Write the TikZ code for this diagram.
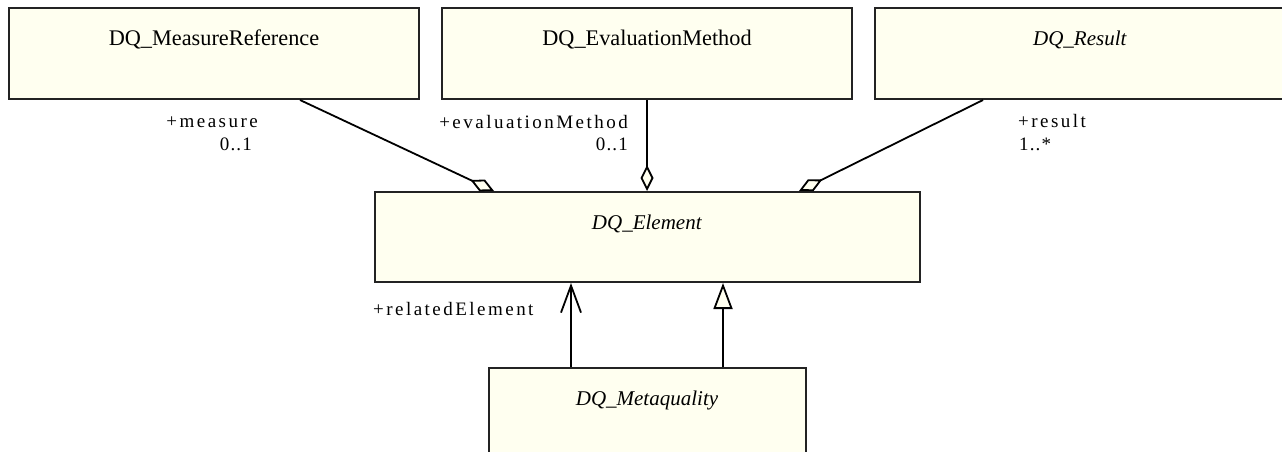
\documentclass[tikz,border=0pt]{standalone}
\usepackage{fontspec}
\setmainfont{Liberation Serif}
\newfontfamily\rolefont[LetterSpace=13]{Liberation Serif}
\newfontfamily\multfont[LetterSpace=6]{Liberation Serif}
\usetikzlibrary{arrows.meta,positioning}
\definecolor{classfill}{RGB}{255,255,240}
\definecolor{classline}{RGB}{35,35,35}

\begin{document}
\begin{tikzpicture}[x=1pt,y=1pt,node distance=21pt,
    classbox/.style={draw=classline,fill=classfill,line width=2pt,
      inner xsep=0pt,inner ysep=0pt,text height=37pt,text depth=54pt,
      minimum width=410pt,font=\fontsize{21}{25}\selectfont},
    concrete/.style={font=\fontsize{22.3}{26}\selectfont},
    role/.style={inner sep=0pt,font=\rolefont\fontsize{19}{22}\selectfont},
    mult/.style={inner sep=0pt,font=\multfont\fontsize{19}{22}\selectfont},
    assoc/.style={line width=1.8pt},
    aggr/.style={assoc,-{Diamond[length=26pt,width=13pt,fill=classfill]}}]
  \clip (0,0) rectangle (1282,-451);
  % classes
  \node[classbox,concrete,anchor=north west] (mref) at (8,-7) {DQ\_MeasureReference};
  \node[classbox,concrete,right=of mref] (evalm) {DQ\_EvaluationMethod};
  \node[classbox,right=of evalm] (result) {\textit{DQ\_Result}};
  \node[classbox,minimum width=545pt,text depth=53pt,below=91pt of evalm] (elem) {\textit{DQ\_Element}};
  \node[classbox,minimum width=317pt,text depth=80pt,below=84pt of elem] (meta) {\textit{DQ\_Metaquality}};
  % aggregations
  \draw[aggr] ([xshift=86pt]mref.south) -- ([xshift=-153pt]elem.north);
  \draw[aggr] (evalm.south) -- (elem.north);
  \draw[aggr] ([xshift=-97pt]result.south) -- ([xshift=152pt]elem.north);
  % association and generalization
  \draw[assoc,-{Straight Barb[length=27pt,width=20pt]}] ([xshift=-76pt]meta.north) -- ([xshift=-76pt]elem.south);
  \draw[assoc,-{Triangle[length=26pt,width=19pt,fill=classfill]}] ([xshift=76pt]meta.north) -- ([xshift=76pt]elem.south);
  % role names
  \node[role,anchor=base east] (measure) at (258,-127) {+measure};
  \node[mult,anchor=base east] (measuremult) at (252,-150) {0..1};
  \node[role,anchor=base east] (method) at (628,-128) {+evaluationMethod};
  \node[mult,anchor=base east] (methodmult) at (628,-150) {0..1};
  \node[role,anchor=base west] (res) at (1018,-127) {+result};
  \node[mult,anchor=base west] (resmult) at (1019,-150) {1..*};
  \node[role,anchor=base west] (related) at (373,-315) {+relatedElement};
\end{tikzpicture}
\end{document}
